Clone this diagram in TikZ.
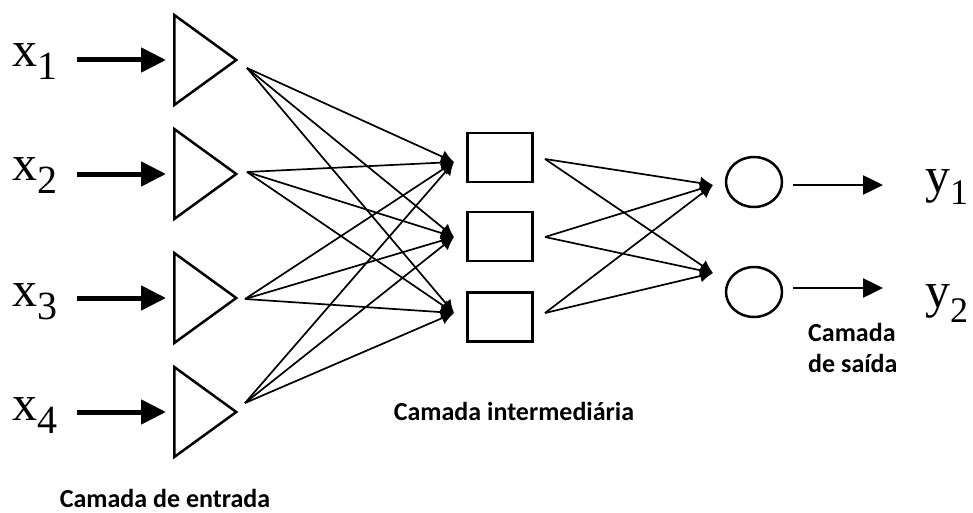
\documentclass[tikz,border=0pt]{standalone}
\usepackage{fontspec}
\setmainfont{Liberation Serif}
\newfontfamily\lblfont{Carlito}
\usetikzlibrary{arrows.meta,shapes.geometric}
\begin{document}
\begin{tikzpicture}[x=1pt,y=-1pt,
  tri/.style={draw, isosceles triangle, isosceles triangle stretches, minimum width=90pt, minimum height=62pt, inner sep=0pt, line width=2.5pt, anchor=lower side},
  hid/.style={draw, rectangle, line width=2.5pt, minimum width=65pt, minimum height=49pt, inner sep=0pt},
  outn/.style={draw, ellipse, line width=2.5pt, minimum width=56pt, minimum height=50pt, inner sep=0pt},
  inarrow/.style={line width=5pt, -{Triangle[length=25pt,width=24pt]}, shorten >=7pt},
  conn/.style={line width=1.7pt, -{Latex[length=13pt,width=13pt]}},
  outarrow/.style={line width=2.5pt, -{Triangle[length=20pt,width=19pt]}},
  varlbl/.style={anchor=base west, inner sep=0pt, font=\fontsize{50}{50}\selectfont},
  caption/.style={inner sep=0pt, font=\lblfont\bfseries\fontsize{26}{31}\selectfont}
]
\useasboundingbox (0,0) rectangle (973,513);

% input labels
\node[varlbl] (x1) at (12,67)  {x\raisebox{-13pt}{\fontsize{40}{40}\selectfont 1}};
\node[varlbl] (x2) at (12,180) {x\raisebox{-13pt}{\fontsize{40}{40}\selectfont 2}};
\node[varlbl] (x3) at (12,306) {x\raisebox{-13pt}{\fontsize{40}{40}\selectfont 3}};
\node[varlbl] (x4) at (12,420) {x\raisebox{-13pt}{\fontsize{40}{40}\selectfont 4}};

% input triangles
\node[tri] (t1) at (173,60)  {};
\node[tri] (t2) at (173,174) {};
\node[tri] (t3) at (173,298) {};
\node[tri] (t4) at (173,412) {};

% input arrows
\coordinate (s1) at (77,60);
\coordinate (s2) at (77,174);
\coordinate (s3) at (77,298);
\coordinate (s4) at (77,412);
\foreach \i in {1,2,3,4} \draw[inarrow] (s\i) -- (t\i.lower side);

% hidden
\node[hid] (h1) at (500,157.5) {};
\node[hid] (h2) at (500,236.5) {};
\node[hid] (h3) at (500,317) {};

% output
\node[outn] (o1) at (754,182) {};
\node[outn] (o2) at (754,292) {};

% connection points
\coordinate (ts1) at (247,68);
\coordinate (ts2) at (247,172);
\coordinate (ts3) at (245,299);
\coordinate (ts4) at (245,403);
\coordinate (hi1) at (454,162);
\coordinate (hi2) at (454,237);
\coordinate (hi3) at (454,313);
\coordinate (ho1) at (545,159);
\coordinate (ho2) at (545,237);
\coordinate (ho3) at (545,313);
\coordinate (oi1) at (713,185);
\coordinate (oi2) at (713,273);

\foreach \i in {1,2,3,4}
  \foreach \j in {1,2,3}
    \draw[conn] (ts\i) -- (hi\j);
\foreach \j in {1,2,3}
  \foreach \k in {1,2}
    \draw[conn] (ho\j) -- (oi\k);

% output arrows and labels
\coordinate (os1) at (793,185);
\coordinate (os2) at (793,288);
\coordinate (oe1) at (883,185);
\coordinate (oe2) at (883,288);
\draw[outarrow] (os1) -- (oe1);
\draw[outarrow] (os2) -- (oe2);
\node[varlbl] (y1) at (925,192) {y\raisebox{-13pt}{\fontsize{36}{36}\selectfont 1}};
\node[varlbl] (y2) at (925,307) {y\raisebox{-15pt}{\fontsize{36}{36}\selectfont 2}};

% captions
\node[caption, anchor=base] (c1) at (165,507) {Camada de entrada};
\node[caption, anchor=base] (c2) at (514,420) {Camada intermediária};
\node[caption, anchor=base west, align=left] (c3) at (808,372) {Camada\\de saída};
\end{tikzpicture}
\end{document}
